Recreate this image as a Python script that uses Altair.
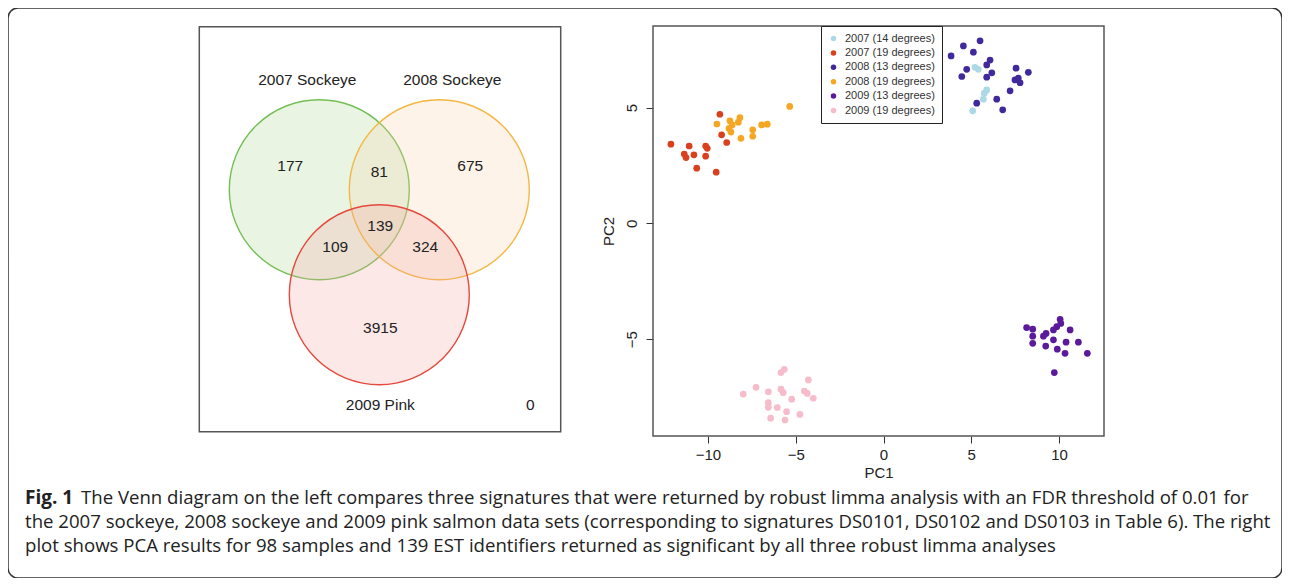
import altair as alt
import pandas as pd

# ---------------- Venn diagram (left panel) ----------------
venn_sets = ["2007 Sockeye", "2008 Sockeye", "2009 Pink"]
venn_cx = [120, 240, 180]
venn_cy = [163, 163, 268]
venn_stroke = ["#74bf55", "#f2b843", "#e5483c"]
venn_fill = ["#a9d391", "#f9cfa6", "#f4a3a0"]

venn_label_text = ["2007 Sockeye", "2008 Sockeye", "2009 Pink", "0"]
venn_label_x = [108, 253, 181, 331]
venn_label_y = [53, 53, 378, 378]

venn_counts = ["177", "81", "675", "139", "109", "324", "3915"]
venn_count_x = [91, 180, 271, 181, 136, 226, 181]
venn_count_y = [139, 145, 139, 199, 220, 220, 301]

venn_box = [0, 361.4, 0, 405]

# ---------------- PCA (right panel) ----------------
pca_groups = ["2007 (14 degrees)", "2007 (19 degrees)", "2008 (13 degrees)",
              "2008 (19 degrees)", "2009 (13 degrees)", "2009 (19 degrees)"]
pca_colors = ["#add8e6", "#d9411e", "#40299a", "#f5a623", "#5a1a9a", "#f7bccb"]

pc1_2007_14 = [5.21, 5.40, 5.88, 5.74, 5.69, 5.08]
pc2_2007_14 = [6.74, 6.65, 5.76, 5.62, 5.36, 4.86]

pc1_2007_19 = [-9.32, -12.11, -11.07, -10.13, -10.04, -11.35, -11.25, -10.80, -10.13, -10.64, -9.53, -9.22, -8.93]
pc2_2007_19 = [4.71, 3.42, 3.34, 3.34, 3.24, 2.99, 2.84, 2.96, 2.90, 2.38, 2.21, 3.82, 3.49]

pc1_2008_13 = [5.50, 4.55, 3.85, 5.12, 6.07, 5.88, 4.74, 4.46, 6.17, 5.88, 7.55, 8.25, 7.49, 7.68, 7.78, 7.21, 6.45, 5.31, 6.79]
pc2_2008_13 = [7.88, 7.66, 7.23, 7.39, 7.05, 6.84, 6.65, 6.34, 6.50, 6.31, 6.70, 6.52, 6.19, 6.27, 6.07, 5.72, 5.36, 5.19, 4.90]

pc1_2008_19 = [-9.49, -8.75, -8.62, -8.18, -8.27, -8.80, -8.69, -8.12, -7.45, -7.45, -6.94, -6.62, -5.34]
pc2_2008_19 = [4.29, 4.43, 4.25, 4.56, 4.37, 4.10, 3.94, 3.67, 4.04, 3.76, 4.25, 4.28, 5.05]

pc1_2009_13 = [10.06, 10.10, 9.87, 9.68, 9.26, 9.11, 8.50, 8.50, 8.50, 9.24, 9.68, 10.63, 10.40, 11.10, 9.90, 10.34, 11.61, 9.73, 8.15]
pc2_2009_13 = [-4.14, -4.32, -4.46, -4.60, -4.75, -4.87, -4.57, -4.87, -5.18, -5.30, -5.03, -4.60, -5.13, -5.13, -5.43, -5.61, -5.61, -6.44, -4.50]

pc1_2009_19 = [-5.84, -5.65, -4.28, -7.26, -7.99, -6.56, -5.84, -5.71, -4.51, -4.34, -4.00, -5.23, -6.56, -6.56, -6.05, -5.52, -4.76, -6.43, -5.61]
pc2_2009_19 = [-6.44, -6.30, -6.76, -7.08, -7.37, -7.27, -7.16, -7.31, -7.24, -7.34, -7.55, -7.59, -7.74, -7.94, -7.95, -8.13, -8.25, -8.41, -8.49]

pc1_ticks = [-10, -5, 0, 5, 10]
pc2_ticks = [-5, 0, 5]
pc1_domain = [-13.13, 12.56]
pc2_domain = [-9.18, 8.52]

# ---------------- Caption ----------------
caption_head = "Fig. 1"
caption_lines = [
    "The Venn diagram on the left compares three signatures that were returned by robust limma analysis with an FDR threshold of 0.01 for",
    "the 2007 sockeye, 2008 sockeye and 2009 pink salmon data sets (corresponding to signatures DS0101, DS0102 and DS0103 in Table 6). The right",
    "plot shows PCA results for 98 samples and 139 EST identifiers returned as significant by all three robust limma analyses",
]

# ---------------- Build tables ----------------
circles = pd.DataFrame({"set": venn_sets, "cx": venn_cx, "cy": venn_cy})
vlabels = pd.DataFrame({"t": venn_label_text, "x": venn_label_x, "y": venn_label_y})
vcounts = pd.DataFrame({"t": venn_counts, "x": venn_count_x, "y": venn_count_y})
vbox = pd.DataFrame({"x0": [venn_box[0]], "x1": [venn_box[1]], "y0": [venn_box[2]], "y1": [venn_box[3]]})

series = [
    (pca_groups[0], pc1_2007_14, pc2_2007_14),
    (pca_groups[1], pc1_2007_19, pc2_2007_19),
    (pca_groups[2], pc1_2008_13, pc2_2008_13),
    (pca_groups[3], pc1_2008_19, pc2_2008_19),
    (pca_groups[4], pc1_2009_13, pc2_2009_13),
    (pca_groups[5], pc1_2009_19, pc2_2009_19),
]
rows = []
for g, xs, ys in series:
    for a, b in zip(xs, ys):
        rows.append({"group": g, "PC1": a, "PC2": b})
pca = pd.DataFrame(rows)
pbox = pd.DataFrame({"x0": [pc1_domain[0]], "x1": [pc1_domain[1]], "y0": [pc2_domain[0]], "y1": [pc2_domain[1]]})

# ---------------- Scales ----------------
VX = alt.Scale(domain=[venn_box[0], venn_box[1]], range=[191.3, 552.7], zero=False, nice=False)
VY = alt.Scale(domain=[venn_box[2], venn_box[3]], range=[18.7, 423.7], zero=False, nice=False)
PX = alt.Scale(domain=pc1_domain, range=[645, 1096], zero=False, nice=False)
PY = alt.Scale(domain=pc2_domain, range=[428, 18], zero=False, nice=False)

SANS = "Liberation Sans"
CAP = "Open Sans"
CAP_SIZE = 18.6

venn_circles = alt.Chart(circles).mark_circle(size=32400, opacity=1, fillOpacity=0.25, strokeWidth=1.4).encode(
    x=alt.X("cx:Q", scale=VX, axis=None),
    y=alt.Y("cy:Q", scale=VY, axis=None),
    fill=alt.Fill("set:N", scale=alt.Scale(domain=venn_sets, range=venn_fill), legend=None),
    stroke=alt.Stroke("set:N", scale=alt.Scale(domain=venn_sets, range=venn_stroke), legend=None),
)

venn_rect = alt.Chart(vbox).mark_rect(fillOpacity=0, stroke="#555555", strokeWidth=1.5).encode(
    x=alt.X("x0:Q", scale=VX, axis=None), x2="x1:Q",
    y=alt.Y("y0:Q", scale=VY, axis=None), y2="y1:Q",
)

venn_lab = alt.Chart(vlabels).mark_text(font=SANS, fontSize=15.5, color="#222222", align="center", baseline="middle").encode(
    x=alt.X("x:Q", scale=VX, axis=None), y=alt.Y("y:Q", scale=VY, axis=None), text="t:N")

venn_num = alt.Chart(vcounts).mark_text(font=SANS, fontSize=15.5, color="#222222", align="center", baseline="middle").encode(
    x=alt.X("x:Q", scale=VX, axis=None), y=alt.Y("y:Q", scale=VY, axis=None), text="t:N")

pca_rect = alt.Chart(pbox).mark_rect(fillOpacity=0, stroke="#555555", strokeWidth=1.5).encode(
    x=alt.X("x0:Q", scale=PX, axis=None), x2="x1:Q",
    y=alt.Y("y0:Q", scale=PY, axis=None), y2="y1:Q",
)

pca_pts = alt.Chart(pca).mark_circle(size=45, opacity=1).encode(
    x=alt.X("PC1:Q", scale=PX,
            axis=alt.Axis(orient="bottom", offset=-142, values=pc1_ticks, domain=False, grid=False,
                          tickSize=7, tickColor="#333333", tickWidth=1,
                          labelFont=SANS, labelFontSize=15, labelColor="#222222", labelPadding=4,
                          labelFlush=False, labelOverlap=False,
                          title="PC1", titleFont=SANS, titleFontSize=15, titleFontWeight="normal",
                          titleColor="#222222", titlePadding=3)),
    y=alt.Y("PC2:Q", scale=PY,
            axis=alt.Axis(orient="left", offset=-645, values=pc2_ticks, domain=False, grid=False,
                          tickSize=7, tickColor="#333333", tickWidth=1,
                          labelFont=SANS, labelFontSize=15, labelColor="#222222", labelPadding=7,
                          labelAngle=270, labelAlign="center", labelBaseline="bottom",
                          labelFlush=False, labelOverlap=False,
                          title="PC2", titleFont=SANS, titleFontSize=15, titleFontWeight="normal",
                          titleColor="#222222", titlePadding=8)),
    color=alt.Color("group:N", scale=alt.Scale(domain=pca_groups, range=pca_colors),
                    legend=alt.Legend(orient="none", legendX=813, legendY=18, title=None,
                                      labelFont=SANS, labelFontSize=11, labelColor="#333333",
                                      symbolType="circle", symbolSize=30, symbolStrokeWidth=0,
                                      padding=7, rowPadding=2.4, labelOffset=6,
                                      strokeColor="#222222", fillColor="white")),
)

cap_head = alt.Chart(pd.DataFrame({"t": [caption_head]})).mark_text(
    font=CAP, fontSize=19, fontWeight="bold", color="#222222", align="left", baseline="middle"
).encode(x=alt.value(17), y=alt.value(490), text="t:N")

cap_l1 = alt.Chart(pd.DataFrame({"t": [caption_lines[0]]})).mark_text(
    font=CAP, fontSize=CAP_SIZE, color="#222222", align="left", baseline="middle"
).encode(x=alt.value(73), y=alt.value(490), text="t:N")

cap_l2 = alt.Chart(pd.DataFrame({"t": [caption_lines[1]]})).mark_text(
    font=CAP, fontSize=CAP_SIZE, color="#222222", align="left", baseline="middle"
).encode(x=alt.value(17), y=alt.value(514), text="t:N")

cap_l3 = alt.Chart(pd.DataFrame({"t": [caption_lines[2]]})).mark_text(
    font=CAP, fontSize=CAP_SIZE, color="#222222", align="left", baseline="middle"
).encode(x=alt.value(17), y=alt.value(538), text="t:N")

chart = alt.layer(
    venn_circles, venn_rect, venn_lab, venn_num,
    pca_rect, pca_pts,
    cap_head, cap_l1, cap_l2, cap_l3,
).resolve_scale(
    x="independent", y="independent"
).properties(
    width=1274, height=570, padding=0, autosize=alt.AutoSizeParams(type="none"),
    background="white",
).configure_view(
    stroke="#333333", strokeWidth=1.5, cornerRadius=10
)

chart.save("out.html", embed_options={"renderer": "svg", "actions": False})
